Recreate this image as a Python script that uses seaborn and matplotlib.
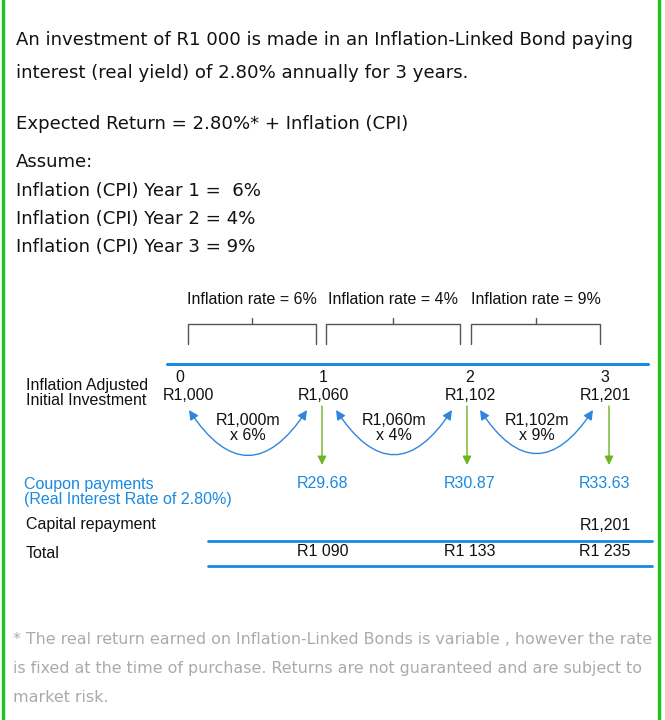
import matplotlib.pyplot as plt
import seaborn as sns

# values shown in the diagram
years = ["0", "1", "2", "3"]
adjusted = ["R1,000", "R1,060", "R1,102", "R1,201"]
inflation = ["6%", "4%", "9%"]
growth_base = ["R1,000m", "R1,060m", "R1,102m"]
coupons = ["R29.68", "R30.87", "R33.63"]
capital = "R1,201"
totals = ["R1 090", "R1 133", "R1 235"]

intro = [
    "An investment of R1 000 is made in an Inflation-Linked Bond paying",
    "interest (real yield) of 2.80% annually for 3 years.",
]
note = [
    "* The real return earned on Inflation-Linked Bonds is variable , however the rate",
    "is fixed at the time of purchase. Returns are not guaranteed and are subject to",
    "market risk.",
]

sns.set_theme(style="white")
plt.rcParams['font.family'] = ['DejaVu Sans']

fig = plt.figure(figsize=(6.65, 7.2), dpi=100)
ax = fig.add_axes([0, 0, 1, 1])
ax.set_xlim(0, 665)
ax.set_ylim(720, 0)
ax.axis('off')

blue = '#1a8ae0'
green = '#6fb421'
arial = 'Liberation Sans'
fs = 11.5
body = 13.1

# green frame
ax.plot([3, 3], [0, 720], color='#22c31e', lw=2.5)
ax.plot([659, 659], [0, 720], color='#22c31e', lw=2.5)

# intro text
for i, line in enumerate(intro):
    ax.text(16, 40 + 33 * i, line, fontsize=body, va='center', color='#111')
ax.text(16, 124, "Expected Return = 2.80%* + Inflation (CPI)", fontsize=body, va='center', color='#111')
ax.text(16, 162, "Assume:", fontsize=body, va='center', color='#111')
for i, r in enumerate(inflation):
    sp = "  " if i == 0 else " "
    ax.text(16, 191 + 28 * i, f"Inflation (CPI) Year {i + 1} ={sp}{r}", fontsize=body,
            va='center', color='#111')

# diagram columns
col_x = [188, 323, 470, 605]
seg = [(188, 316), (326, 460), (471, 600)]
arcs = [(189, 307), (336, 452), (480, 593)]
drop_x = [322, 467, 609]

for (a, b), r in zip(seg, inflation):
    mid = (a + b) / 2
    ax.text(mid, 300, f"Inflation rate = {r}", family=arial, fontsize=fs,
            ha='center', va='center', color='#111')
    ax.plot([a, a, b, b], [344, 324, 324, 344], color='#555', lw=1)
    ax.plot([mid, mid], [318, 324], color='#555', lw=1)

ax.plot([167, 648], [364, 364], color=blue, lw=2.2)

ax.text(26, 393, "Inflation Adjusted\nInitial Investment", family=arial, fontsize=fs,
        va='center', linespacing=0.95, color='#111')
for i, (x, y, v) in enumerate(zip(col_x, years, adjusted)):
    ax.text(x - 8 if i == 0 else x, 378, y, family=arial, fontsize=fs, ha='center', va='center', color='#111')
    ax.text(x, 395, v, family=arial, fontsize=fs, ha='center', va='center', color='#111')

# curved growth arrows
for (x0, x1), b, r in zip(arcs, growth_base, inflation):
    ax.annotate("", xy=(x1, 410), xytext=(x0, 410),
                arrowprops=dict(arrowstyle='<|-|>', color='#2f86dc', lw=1,
                                shrinkA=0, shrinkB=0,
                                connectionstyle='arc3,rad=0.76', mutation_scale=14))
    ax.text((x0 + x1) / 2, 428, f"{b}\nx {r}", family=arial,
            fontsize=fs, ha='center', va='center', linespacing=0.95, color='#111')

# coupon arrows
for x in drop_x:
    ax.annotate("", xy=(x, 465), xytext=(x, 406),
                arrowprops=dict(arrowstyle='-|>', color=green, lw=1,
                                shrinkA=0, shrinkB=0, mutation_scale=13))

ax.text(24, 492, "Coupon payments\n(Real Interest Rate of 2.80%)", family=arial, fontsize=fs,
        va='center', linespacing=0.95, color=blue)
for x, v in zip(col_x[1:], coupons):
    ax.text(x, 484, v, family=arial, fontsize=fs, ha='center', va='center', color=blue)

ax.text(26, 525, "Capital repayment", family=arial, fontsize=fs, va='center', color='#111')
ax.text(col_x[3], 525, capital, family=arial, fontsize=fs, ha='center', va='center', color='#111')

ax.plot([208, 652], [541, 541], color=blue, lw=2)
ax.text(26, 554, "Total", family=arial, fontsize=fs, va='center', color='#111')
for x, v in zip(col_x[1:], totals):
    ax.text(x, 552, v, family=arial, fontsize=fs, ha='center', va='center', color='#111')
ax.plot([208, 652], [566, 566], color=blue, lw=2)

# footnote
for i, line in enumerate(note):
    ax.text(13, 639 + 29 * i, line, fontsize=11.4, va='center', color='#aaa')

fig.savefig("out.png", dpi=100)
